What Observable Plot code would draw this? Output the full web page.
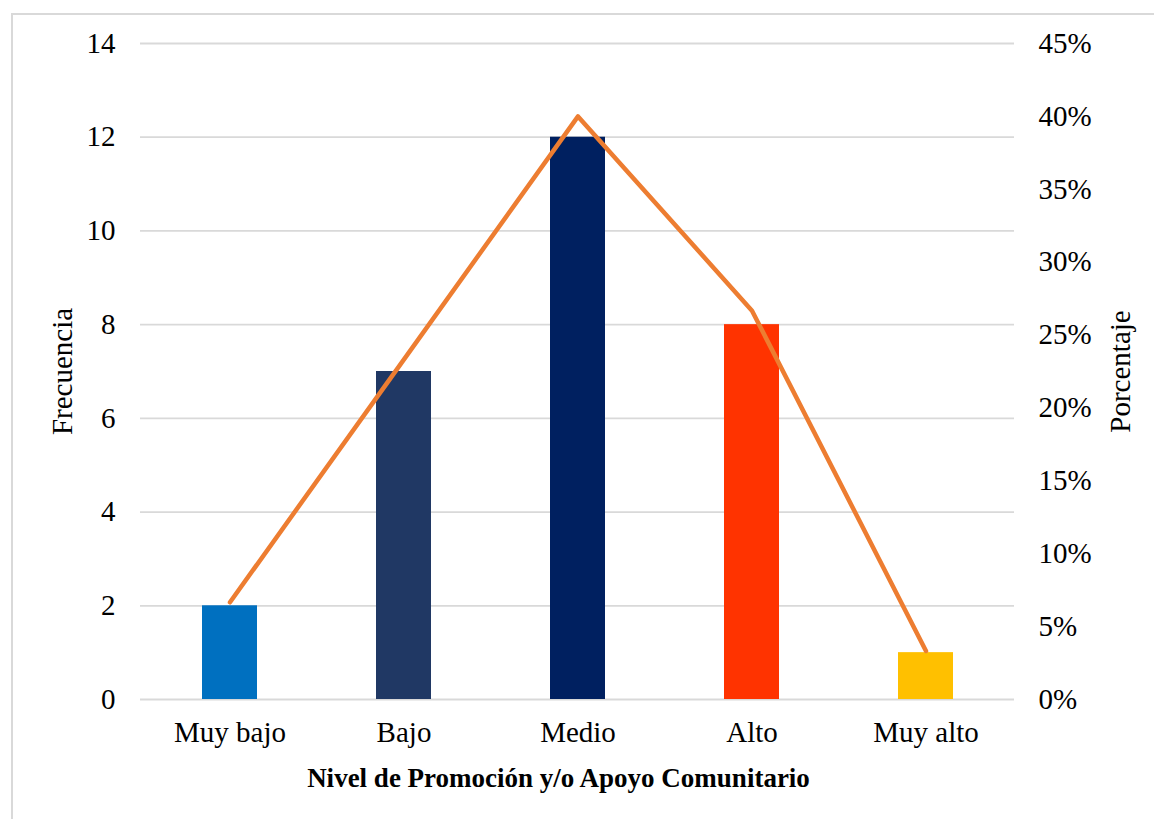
<!DOCTYPE html>
<html>
<head>
<meta charset="utf-8">
<script src="https://cdn.jsdelivr.net/npm/d3@7"></script>
<script src="https://cdn.jsdelivr.net/npm/@observablehq/plot@0.6"></script>
<style>
  html, body { margin: 0; padding: 0; background: #fff; overflow: hidden; }
  #wrap { position: relative; width: 1154px; height: 819px; }
  #frame {
    position: absolute; left: 11px; top: 13px; width: 2000px; height: 2000px;
    border-left: 2px solid #d9d9d9; border-top: 2px solid #d9d9d9; box-sizing: border-box;
  }
  #chart { position: absolute; left: 0; top: 0; }
  #chart svg, #chart svg g, #chart svg text {
    font-family: 'Liberation Serif', 'Times New Roman', serif !important;
    font-variant: normal !important;
    font-variant-numeric: normal !important;
  }
</style>
</head>
<body>
<div id="wrap">
  <div id="frame"></div>
  <div id="chart"></div>
</div>
<script>
// Levels of community promotion / support
const niveles = ["Muy bajo", "Bajo", "Medio", "Alto", "Muy alto"];
// Frequency per level (left axis)
const frecuencia = [2, 7, 12, 8, 1];
// Share of responses per level, in percent (right axis)
const porcentaje = [6.67, 23.33, 40.0, 26.67, 3.33];
// Bar fill per level
const colores = ["#0070C0", "#203864", "#002060", "#FF3300", "#FFC000"];
// Right-axis tick values (percent)
const pctTicks = [0, 5, 10, 15, 20, 25, 30, 35, 40, 45];

const data = niveles.map((n, i) => ({nivel: n, freq: frecuencia[i], pct: porcentaje[i], color: colores[i]}));

// Secondary axis: percent 0–45 mapped onto frequency 0–14
const pctToFreq = d3.scaleLinear([0, 45], [0, 14]);

const serif = "'Liberation Serif', 'Times New Roman', serif";

const chart = Plot.plot({
  width: 1154,
  height: 819,
  marginTop: 43,
  marginBottom: 120,
  marginLeft: 140,
  marginRight: 140,
  style: {fontFamily: serif, fontSize: "29px", color: "#000", background: "transparent"},
  x: {domain: niveles, paddingInner: 0.686, paddingOuter: 0.343},
  y: {domain: [0, 14]},
  marks: [
    Plot.gridY(d3.range(0, 15, 2), {stroke: "#d9d9d9", strokeOpacity: 1, strokeWidth: 1.8}),
    Plot.barY(data, {x: "nivel", y: "freq", fill: "color"}),
    Plot.line(data, {
      x: "nivel",
      y: d => pctToFreq(d.pct),
      stroke: "#ED7D31",
      strokeWidth: 4.5,
      strokeLinejoin: "round",
      strokeLinecap: "round"
    }),
    Plot.axisY(d3.range(0, 15, 2), {
      anchor: "left", tickSize: 0, tickPadding: 25, label: null,
      fontSize: 29, fontFamily: serif, fontVariant: "normal"
    }),
    Plot.axisY(pctTicks.map(p => pctToFreq(p)), {
      anchor: "right", tickSize: 0, tickPadding: 24, label: null,
      fontSize: 29, fontFamily: serif, fontVariant: "normal",
      tickFormat: (d, i) => `${pctTicks[i]}%`
    }),
    Plot.axisX({
      anchor: "bottom", tickSize: 0, tickPadding: 22, label: null,
      fontSize: 29, fontFamily: serif
    }),
    Plot.text(["Frecuencia"], {
      frameAnchor: "left", dx: -78, rotate: -90, textAnchor: "middle",
      fontSize: 29, fontFamily: serif, text: d => d
    }),
    Plot.text(["Porcentaje"], {
      frameAnchor: "right", dx: 106, rotate: -90, textAnchor: "middle",
      fontSize: 29, fontFamily: serif, text: d => d
    }),
    Plot.text(["Nivel de Promoción y/o Apoyo Comunitario"], {
      frameAnchor: "bottom", dx: -19, dy: 79, fontSize: 27, fontWeight: "bold",
      fontFamily: serif, lineAnchor: "middle", text: d => d
    })
  ]
});

document.getElementById("chart").appendChild(chart);
</script>
</body>
</html>
